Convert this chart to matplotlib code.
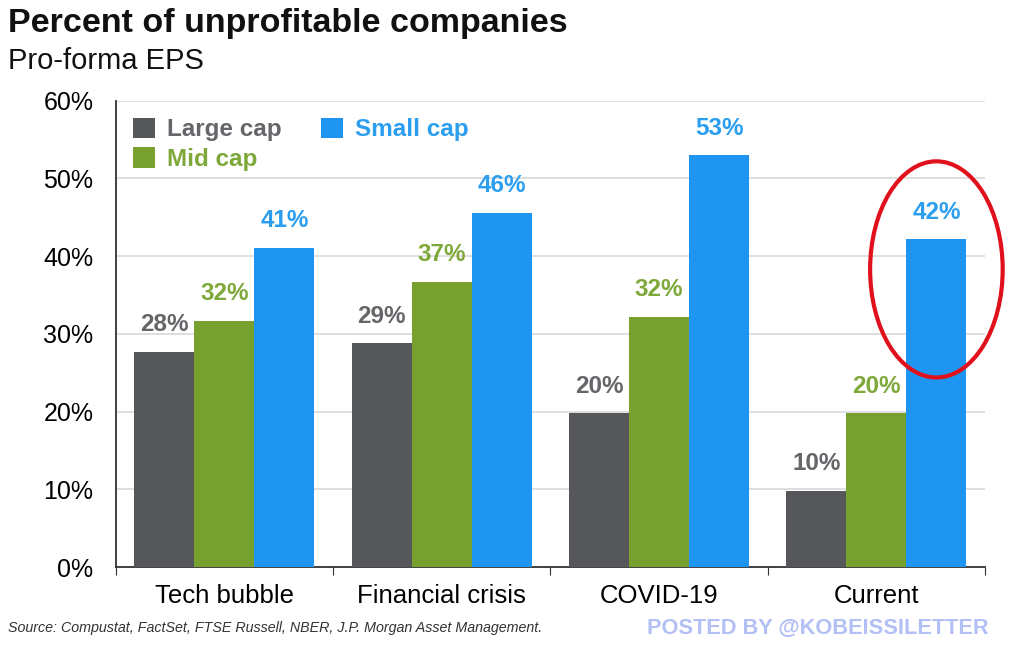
import matplotlib.pyplot as plt
import numpy as np
from matplotlib.patches import Ellipse

plt.rcParams['font.family'] = ['Liberation Sans', 'DejaVu Sans']

# Data
categories = ['Tech bubble', 'Financial crisis', 'COVID-19', 'Current']
large_cap = [27.7, 28.8, 19.8, 9.8]
mid_cap = [31.7, 36.7, 32.2, 19.8]
small_cap = [41.1, 45.6, 53.0, 42.2]
series_names = ['Large cap', 'Mid cap', 'Small cap']
yticks = [0, 10, 20, 30, 40, 50, 60]

bar_colors = ['#55575a', '#78a02e', '#1e95f0']
label_colors = ['#646669', '#7fa83a', '#2b9ef0']

fig = plt.figure(figsize=(10.24, 6.58), dpi=100)
ax = fig.add_axes([0.113, 0.138, 0.849, 0.709])

x = np.arange(len(categories))
width = 0.276
series = [large_cap, mid_cap, small_cap]

for i, (vals, name) in enumerate(zip(series, series_names)):
    pos = x + (i - 1) * width
    bars = ax.bar(pos, vals, width, color=bar_colors[i], label=name, zorder=3)
    for b, v in zip(bars, vals):
        ax.text(b.get_x() + b.get_width() / 2, v + 2.0, f'{round(v)}%',
                ha='center', va='bottom', fontsize=17.5, fontweight='bold',
                color=label_colors[i], zorder=4)

# Axes styling
ax.set_xlim(-0.5, len(categories) - 0.5)
ax.set_ylim(0, 60)
ax.set_yticks(yticks)
ax.set_yticklabels([f'{t}%' for t in yticks], fontsize=18)
ax.set_xticks(np.arange(len(categories) + 1) - 0.5, minor=False)
ax.set_xticklabels([])
ax.set_xticks(x, minor=True)
ax.set_xticklabels(categories, minor=True, fontsize=18.5)
ax.tick_params(axis='x', which='major', length=6, color='#333333')
ax.tick_params(axis='x', which='minor', length=0, pad=12)
ax.tick_params(axis='y', length=0, pad=16)
ax.yaxis.grid(True, color='#d9d9d9', linewidth=1.2, zorder=0)
for s in ['top', 'right']:
    ax.spines[s].set_visible(False)
for s in ['left', 'bottom']:
    ax.spines[s].set_color('#333333')
    ax.spines[s].set_linewidth(1.3)

# Legend
leg = ax.legend(ncol=2, loc='upper left', bbox_to_anchor=(-0.005, 1.01),
                frameon=False, fontsize=17.5, handlelength=0.9, handleheight=0.9,
                columnspacing=1.6, labelspacing=0.25, handletextpad=0.5)
for t, c in zip(leg.get_texts(), label_colors):
    t.set_color(c)
    t.set_fontweight('bold')

# Red highlight around the current small cap bar
ell = Ellipse((3 + width, 38.3), width=0.61, height=27.8, fill=False,
              edgecolor='#e0111c', linewidth=3, zorder=5, clip_on=False)
ax.add_patch(ell)

# Titles and notes
fig.text(0.008, 0.965, 'Percent of unprofitable companies', fontsize=24.5,
         fontweight='bold', ha='left', va='center', color='#111111')
fig.text(0.008, 0.908, 'Pro-forma EPS', fontsize=21, ha='left', va='center',
         color='#111111')
fig.text(0.008, 0.045, 'Source: Compustat, FactSet, FTSE Russell, NBER, J.P. Morgan Asset Management.',
         fontsize=10.3, style='italic', ha='left', va='center', color='#333333')
fig.text(0.632, 0.045, 'POSTED BY @KOBEISSILETTER', fontsize=15.7, fontweight='bold',
         ha='left', va='center', color='#b3c0f5')

fig.savefig('out.png', dpi=100)
